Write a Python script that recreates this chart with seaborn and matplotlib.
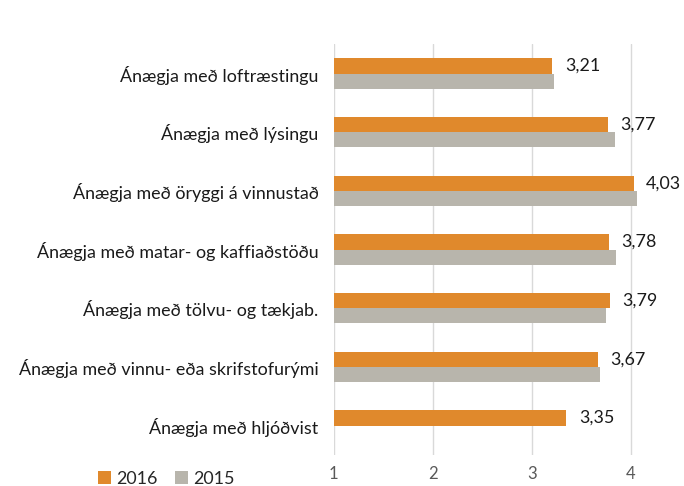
import pandas as pd
import numpy as np
import matplotlib
matplotlib.use("Agg")
import matplotlib.pyplot as plt
import seaborn as sns

categories = [
    "Ánægja með loftræstingu",
    "Ánægja með lýsingu",
    "Ánægja með öryggi á vinnustað",
    "Ánægja með matar- og kaffiaðstöðu",
    "Ánægja með tölvu- og tækjab.",
    "Ánægja með vinnu- eða skrifstofurými",
    "Ánægja með hljóðvist",
]
values_2016 = [3.21, 3.77, 4.03, 3.78, 3.79, 3.67, 3.35]
values_2015 = [3.23, 3.84, 4.06, 3.85, 3.75, 3.69, np.nan]
years = ["2016", "2015"]
colors = {"2016": "#E0892C", "2015": "#B8B5AC"}
xticks = [1, 2, 3, 4]

df = pd.DataFrame({
    "flokkur": categories * 2,
    "ar": [years[0]] * len(categories) + [years[1]] * len(categories),
    "gildi": values_2016 + values_2015,
})

sns.set_style("white")
plt.rcParams["font.family"] = ["Lato", "DejaVu Sans"]

fig = plt.figure(figsize=(6.84, 4.86), dpi=100)
ax = fig.add_axes([0.488, 0.064, 0.512, 0.845])

sns.barplot(data=df, x="gildi", y="flokkur", hue="ar", hue_order=years,
            order=categories, palette=colors, orient="h", width=0.52,
            saturation=1, ax=ax, legend=True)

# bars start at 1, the axis minimum
for patch in ax.patches:
    if patch.get_width() > 0:
        patch.set_x(1)
        patch.set_width(patch.get_width() - 1)
    patch.set_linewidth(0)

ax.set_xlim(1, 4.54)
ax.set_xticks(xticks)
ax.set_xticklabels([str(t) for t in xticks])
ax.xaxis.grid(True, color="#D9D9D9", linewidth=1)
ax.set_axisbelow(True)
ax.tick_params(axis="x", length=0, labelsize=12, labelcolor="#595959", pad=8)
ax.tick_params(axis="y", length=0, labelsize=12.9, labelcolor="#1a1a1a", pad=11)
ax.set_xlabel("")
ax.set_ylabel("")
for s in ax.spines.values():
    s.set_visible(False)

# labels on the 2016 bars
orange = ax.containers[0]
ax.bar_label(orange, labels=[f"{v:.2f}".replace(".", ",") for v in values_2016],
             padding=9, fontsize=12.9, color="#1a1a1a")

handles, labels = ax.get_legend_handles_labels()
ax.get_legend().remove()
fig.legend(handles, labels, loc="lower left", bbox_to_anchor=(0.12, -0.035),
           ncol=2, frameon=False, fontsize=12.9, handlelength=0.7,
           handleheight=0.7, handletextpad=0.3, columnspacing=1.0)

fig.savefig("out.png", dpi=100)
